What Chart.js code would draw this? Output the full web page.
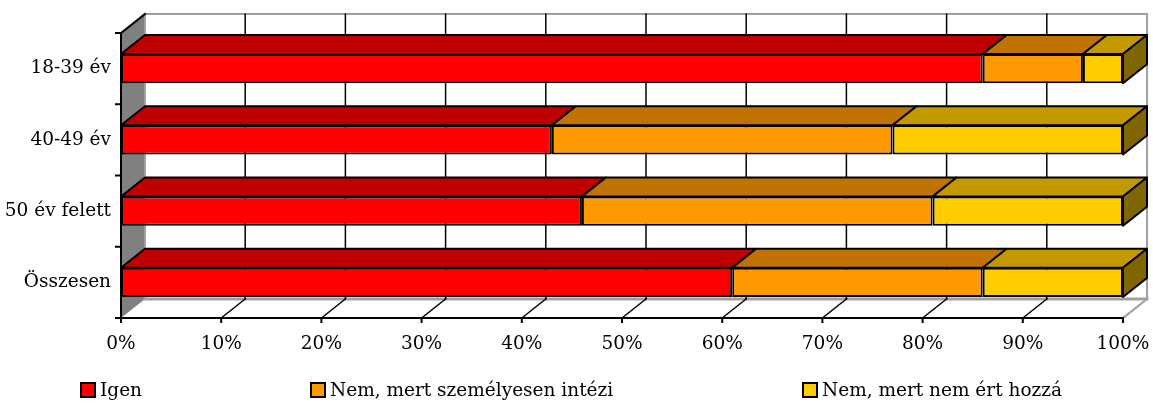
<!DOCTYPE html>
<html lang="hu">
<head>
<meta charset="utf-8">
<title>Korcsoportok szerint</title>
<script src="https://cdn.jsdelivr.net/npm/chart.js@4/dist/chart.umd.min.js"></script>
<style>
  html, body { margin: 0; padding: 0; background: #fff; }
  .wrap { position: relative; width: 1153px; height: 405px; }
  #chart { position: absolute; left: 0; top: 0; }
  .lg-item {
    position: absolute; top: 379px; height: 22px; line-height: 22px;
    font-family: "DejaVu Serif", serif; font-size: 18.5px; color: #000; white-space: nowrap;
  }
  .lg-box {
    position: absolute; left: 0; top: 3px; width: 16px; height: 16px;
    box-sizing: border-box; border: 2px solid #000;
  }
  .lg-text { position: absolute; left: 20px; top: 0; }
</style>
</head>
<body>
<div class="wrap">
  <canvas id="chart" width="1153" height="405"></canvas>
  <div id="legend"></div>
</div>
<script>
// ── 데이터 ──
var categories = ['18-39 év', '40-49 év', '50 év felett', 'Összesen'];
var seriesNames = ['Igen', 'Nem, mert személyesen intézi', 'Nem, mert nem ért hozzá'];
var igen        = [86, 43, 46, 61];
var szemelyesen = [10, 34, 35, 25];
var nemErt      = [4, 23, 19, 14];
var xTicks      = [0, 10, 20, 30, 40, 50, 60, 70, 80, 90, 100];

// ── 색상 ──
var frontColors = ['#FF0000', '#FF9900', '#FFCC00'];
var topColors   = ['#C00000', '#C07300', '#C29A00'];
var sideColors  = ['#800000', '#804D00', '#806600'];
var legendX     = [80, 310, 802];

var DX = 24, DY = 19;   // 3D 깊이
var font = { family: 'DejaVu Serif', size: 18.5 };

// ── 3D 벽/바닥/막대 면 ──
var depth3d = {
  id: 'depth3d',
  beforeDraw: function(chart) {
    var ctx = chart.ctx, a = chart.chartArea, x = chart.scales.x;
    ctx.save();
    ctx.lineCap = 'square';

    // 왼쪽 벽
    ctx.beginPath();
    ctx.moveTo(a.left, a.top);
    ctx.lineTo(a.left + DX, a.top - DY);
    ctx.lineTo(a.left + DX, a.bottom - DY);
    ctx.lineTo(a.left, a.bottom);
    ctx.closePath();
    ctx.fillStyle = '#808080';
    ctx.fill();

    // 뒷벽 테두리
    ctx.strokeStyle = '#A0A0A0';
    ctx.lineWidth = 2;
    ctx.beginPath();
    ctx.moveTo(a.left + DX, a.bottom - DY);
    ctx.lineTo(a.left + DX, a.top - DY);
    ctx.lineTo(a.right + DX, a.top - DY);
    ctx.lineTo(a.right + DX, a.bottom - DY);
    ctx.lineTo(a.right, a.bottom);
    ctx.stroke();
    ctx.lineWidth = 3;
    ctx.beginPath();
    ctx.moveTo(a.left + DX, a.bottom - DY);
    ctx.lineTo(a.right + DX, a.bottom - DY);
    ctx.stroke();

    // 눈금선 (뒷벽 + 바닥)
    ctx.strokeStyle = '#000';
    ctx.lineWidth = 1.5;
    for (var i = 0; i < xTicks.length; i++) {
      var v = xTicks[i];
      var px = x.getPixelForValue(v);
      if (v > 0 && v < 100) {
        ctx.beginPath();
        ctx.moveTo(px + DX, a.top - DY);
        ctx.lineTo(px + DX, a.bottom - DY);
        ctx.stroke();
        ctx.beginPath();
        ctx.moveTo(px, a.bottom);
        ctx.lineTo(px + DX, a.bottom - DY);
        ctx.stroke();
      }
    }

    // 왼쪽 벽 윗선
    ctx.lineWidth = 2;
    ctx.beginPath();
    ctx.moveTo(a.left, a.top);
    ctx.lineTo(a.left + DX, a.top - DY);
    ctx.stroke();

    // 앞쪽 축
    ctx.beginPath();
    ctx.moveTo(a.left, a.top);
    ctx.lineTo(a.left, a.bottom);
    ctx.lineTo(a.right, a.bottom);
    ctx.stroke();

    // 축 눈금
    for (var i = 0; i < xTicks.length; i++) {
      var px = x.getPixelForValue(xTicks[i]);
      ctx.beginPath();
      ctx.moveTo(px, a.bottom);
      ctx.lineTo(px, a.bottom + 4);
      ctx.stroke();
    }
    var band = (a.bottom - a.top) / categories.length;
    for (var j = 0; j <= categories.length; j++) {
      var py = a.top + band * j;
      ctx.beginPath();
      ctx.moveTo(a.left - 5, py);
      ctx.lineTo(a.left, py);
      ctx.stroke();
    }
    ctx.restore();
  },
  afterDatasetsDraw: function(chart) {
    var ctx = chart.ctx;
    var n = chart.data.datasets.length;
    ctx.save();
    ctx.strokeStyle = '#000';
    ctx.lineWidth = 2;
    ctx.lineJoin = 'round';
    for (var d = 0; d < n; d++) {
      var meta = chart.getDatasetMeta(d);
      for (var k = 0; k < meta.data.length; k++) {
        var p = meta.data[k].getProps(['x', 'y', 'base', 'height'], true);
        var left = Math.min(p.x, p.base), right = Math.max(p.x, p.base);
        var top = p.y - p.height / 2, bottom = p.y + p.height / 2;
        if (right - left < 0.5) continue;

        // 윗면
        ctx.beginPath();
        ctx.moveTo(left, top);
        ctx.lineTo(right, top);
        ctx.lineTo(right + DX, top - DY);
        ctx.lineTo(left + DX, top - DY);
        ctx.closePath();
        ctx.fillStyle = topColors[d];
        ctx.fill();
        ctx.stroke();

        // 옆면 (마지막 시리즈만)
        if (d === n - 1) {
          ctx.beginPath();
          ctx.moveTo(right, top);
          ctx.lineTo(right + DX, top - DY);
          ctx.lineTo(right + DX, bottom - DY);
          ctx.lineTo(right, bottom);
          ctx.closePath();
          ctx.fillStyle = sideColors[d];
          ctx.fill();
          ctx.stroke();
        }
      }
    }
    ctx.restore();
  }
};

// ── 차트 ──
var seriesValues = [igen, szemelyesen, nemErt];
var datasets = [];
for (var i = 0; i < seriesValues.length; i++) {
  datasets.push({
    label: seriesNames[i],
    data: seriesValues[i],
    backgroundColor: frontColors[i],
    borderColor: '#000',
    borderWidth: 2,
    borderSkipped: false,
    barPercentage: 0.41,
    categoryPercentage: 1
  });
}

new Chart(document.getElementById('chart'), {
  type: 'bar',
  data: { labels: categories, datasets: datasets },
  plugins: [depth3d],
  options: {
    indexAxis: 'y',
    responsive: false,
    animation: false,
    events: [],
    layout: { padding: { top: 33, right: 30, left: 0, bottom: 0 } },
    plugins: { legend: { display: false }, tooltip: { enabled: false } },
    scales: {
      x: {
        stacked: true,
        min: 0,
        max: 100,
        afterBuildTicks: function(scale) {
          scale.ticks = xTicks.map(function(v) { return { value: v }; });
        },
        ticks: {
          font: font, color: '#000', padding: 15, maxRotation: 0, autoSkip: false,
          callback: function(v) { return v + '%'; }
        },
        grid: { display: false, drawTicks: false },
        border: { display: false },
        afterFit: function(scale) {
          scale.height = 87;
          scale.paddingLeft = 0;
          scale.paddingRight = 0;
        }
      },
      y: {
        stacked: true,
        ticks: { font: font, color: '#000', padding: 10 },
        grid: { display: false, drawTicks: false },
        border: { display: false },
        afterFit: function(scale) {
          scale.width = 121;
          scale.paddingTop = 0;
          scale.paddingBottom = 0;
        }
      }
    }
  }
});

// ── 범례 ──
var legendEl = document.getElementById('legend');
var html = '';
for (var i = 0; i < seriesNames.length; i++) {
  html += '<span class="lg-item" style="left:' + legendX[i] + 'px">' +
    '<span class="lg-box" style="background:' + frontColors[i] + '"></span>' +
    '<span class="lg-text">' + seriesNames[i] + '</span>' +
    '</span>';
}
legendEl.innerHTML = html;
</script>
</body>
</html>
